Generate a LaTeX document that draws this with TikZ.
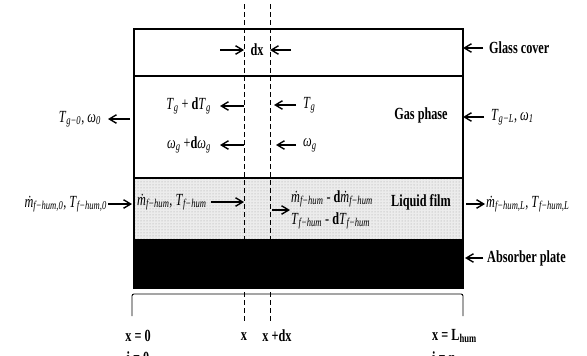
\documentclass[tikz,border=0pt]{standalone}
\usepackage{fontspec}
\setmainfont{Liberation Serif}[FakeStretch=0.72]
\usetikzlibrary{arrows.meta,patterns,calc}
% a variable with an italic subscript
\newcommand{\vs}[2]{\textit{#1}\textsubscript{\textit{#2}}}

\begin{document}
\begin{tikzpicture}[
    x=1pt, y=-1pt,
    >={Straight Barb[length=2.5mm,width=3mm]},
    layer/.style={draw, line width=1.6pt, minimum width=329pt, anchor=north west, inner sep=0pt, outer sep=0pt},
    lbl/.style={font=\fontsize{17}{19}\selectfont\bfseries, inner sep=1pt},
    vlbl/.style={font=\fontsize{17}{19}\selectfont, inner sep=1pt},
    arrow/.style={->, line width=1.4pt},
    cut/.style={dash pattern=on 5pt off 3pt, line width=0.6pt},
]
\useasboundingbox (0,0) rectangle (587,356);

% layers of the collector
\node[layer, minimum height=47pt] (glass) at (134,29) {};
\node[layer, minimum height=102pt] (gas) at (glass.south west) {};
\node[layer, minimum height=62pt, preaction={fill=gray!15}, pattern=dots, pattern color=gray!75] (film) at (gas.south west) {};
\node[layer, minimum height=48pt, fill=black] (plate) at (film.south west) {};

% control volume
\coordinate (xa) at (244,4);
\coordinate (xb) at (270,4);
\coordinate (xaend) at (244,322);
\coordinate (xbend) at (270,322);
\draw[cut] (xa) -- (xaend);
\draw[cut] (xb) -- (xbend);

\node[lbl] (dx) at (257,50) {dx};
\draw[arrow] ($(xa |- dx)+(-24,0)$) -- (xa |- dx);
\draw[arrow] ($(xb |- dx)+(21,0)$) -- (xb |- dx);

% right side labels
\node[lbl, anchor=west] (glasslbl) at (488,48) {Glass cover};
\draw[arrow, shorten <=5pt] (glasslbl.west) -- (glass.east |- glasslbl.west);
\node[lbl, anchor=west] (platelbl) at (486,258) {Absorber plate};
\draw[arrow, shorten <=3pt, shorten >=2pt] (platelbl.west) -- (plate.east |- platelbl.west);

% gas phase
\node[lbl] (gaslbl) at (421,115) {Gas phase};
\node[vlbl, anchor=west] (gasin) at (490,117) {\vs{T}{g−L}, \vs{ω}{1}};
\draw[arrow, shorten <=6pt] (gasin.west) -- (gas.east |- gasin.west);
\node[vlbl, anchor=east] (gasout) at (102,119) {\vs{T}{g−0}, \vs{ω}{0}};
\draw[arrow, shorten <=4pt, shorten >=6pt] (gas.west |- gasout.east) -- (gasout.east);

\node[vlbl, anchor=east] (tgd) at (212,106) {\vs{T}{g} + {\bfseries d}\vs{T}{g}};
\draw[arrow, shorten >=8pt] (xa |- tgd.east) -- (tgd.east);
\node[vlbl, anchor=east] (wgd) at (212,145) {\vs{ω}{g} +{\bfseries d}\vs{ω}{g}};
\draw[arrow, shorten >=8pt] (xa |- wgd.east) -- (wgd.east);
\node[vlbl, anchor=west] (tg) at (302,105) {\vs{T}{g}};
\draw[arrow, shorten <=6pt, shorten >=4pt] (tg.west) -- (xb |- tg.west);
\node[vlbl, anchor=west] (wg) at (302,145) {\vs{ω}{g}};
\draw[arrow, shorten <=6pt, shorten >=6pt] (wg.west) -- (xb |- wg.west);

% liquid film
\node[lbl] (filmlbl) at (421,202) {Liquid film};
\node[vlbl, anchor=east] (filmin) at (108,204) {\vs{ṁ}{f−hum,0}, \vs{T}{f−hum,0}};
\draw[arrow, shorten >=2pt] (filmin.east) -- (film.west |- filmin.east);
\node[vlbl, anchor=west] (mf) at (136,202) {\vs{ṁ}{f−hum}, \vs{T}{f−hum}};
\draw[arrow, shorten <=3pt] (mf.east) -- (xa |- mf.east);
\node[vlbl, anchor=west] (mfd) at (290,199) {\vs{ṁ}{f−hum} - {\bfseries d}\vs{ṁ}{f−hum}};
\node[vlbl, anchor=west] (tfd) at (290,221) {\vs{T}{f−hum} - {\bfseries d}\vs{T}{f−hum}};
\coordinate (mid) at ($(mfd.west)!0.5!(tfd.west)$);
\draw[arrow, shorten <=2pt] (xb |- mid) -- (mid);
\node[vlbl, anchor=west] (filmout) at (485,204) {\vs{ṁ}{f−hum,L}, \vs{T}{f−hum,L}};
\draw[arrow, shorten <=3pt] (film.east |- filmout.west) -- (filmout.west);

% length of the collector
\draw[line width=0.9pt, rounded corners=2pt] (132,316) -- (132,294) -- (463,294) -- (463,316);
\node[lbl] (x0) at (138,336) {x = 0};
\node[lbl] (i0) at (138,358) {i = 0};
\node[lbl] (xlbl) at (244,337) {x};
\node[lbl] (xdx) at (277,336) {x +dx};
\node[lbl, anchor=west] (xL) at (431,336) {x = L\textsubscript{hum}};
\node[lbl, anchor=west] (iN) at (431,358) {i = n};
\end{tikzpicture}
\end{document}
